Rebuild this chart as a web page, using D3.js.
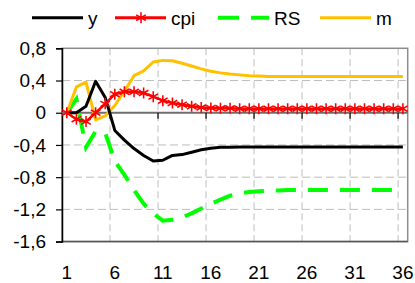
<!DOCTYPE html>
<html>
<head>
<meta charset="utf-8">
<script src="https://cdn.jsdelivr.net/npm/d3@7"></script>
<style>
  body { margin: 0; background: #fff; }
  svg text { font-family: Arial, "Liberation Sans", sans-serif; }
</style>
</head>
<body>
<div id="chart"></div>
<script>
var periods = d3.range(1, 37);
var xTickLabels = [1, 6, 11, 16, 21, 26, 31, 36];
var yTicks = [0.8, 0.4, 0, -0.4, -0.8, -1.2, -1.6];

var ySeries = [0, 0, 0.08, 0.39, 0.19, -0.22, -0.34, -0.445, -0.53, -0.6, -0.59, -0.53, -0.52, -0.49, -0.46, -0.44,
               -0.43, -0.43, -0.425, -0.425, -0.425, -0.425, -0.425, -0.425, -0.425, -0.425, -0.425, -0.425, -0.425, -0.425,
               -0.425, -0.425, -0.425, -0.425, -0.425, -0.425];
var cpiSeries = [0, -0.08, -0.11, 0.0, 0.11, 0.23, 0.26, 0.26, 0.245, 0.2, 0.15, 0.12, 0.1, 0.08, 0.065, 0.06,
                 0.055, 0.055, 0.05, 0.05, 0.05, 0.05, 0.05, 0.05, 0.05, 0.05, 0.05, 0.05, 0.05, 0.05,
                 0.05, 0.05, 0.05, 0.05, 0.05, 0.05];
var rsSeries = [0, 0.17, -0.43, -0.23, -0.25, -0.6, -0.77, -0.96, -1.13, -1.25, -1.34, -1.33, -1.3, -1.25, -1.19, -1.13,
                -1.08, -1.03, -1.0, -0.985, -0.975, -0.97, -0.965, -0.96, -0.96, -0.96, -0.96, -0.96, -0.96, -0.96,
                -0.96, -0.96, -0.96, -0.96, -0.96, -0.96];
var mSeries = [0, 0.32, 0.38, -0.09, -0.04, 0.09, 0.27, 0.46, 0.52, 0.63, 0.65, 0.645, 0.615, 0.58, 0.545, 0.515,
               0.495, 0.48, 0.47, 0.46, 0.455, 0.45, 0.45, 0.45, 0.45, 0.45, 0.45, 0.45, 0.45, 0.45,
               0.45, 0.45, 0.45, 0.45, 0.45, 0.45];

var seriesNames = ["y", "cpi", "RS", "m"];

var svg = d3.select("#chart").append("svg")
            .attr("width", 415)
            .attr("height", 283);

var plotLeft = 62, plotRight = 407.7, plotTop = 48.3, plotBottom = 241.6;

var x = d3.scaleBand().domain(periods).range([plotLeft, plotRight]).padding(0);
var y = d3.scaleLinear().domain([-1.6, 0.8]).range([plotBottom, plotTop]);
var cx = function(p) { return x(p) + x.bandwidth() / 2; };
var fmt = function(d) { return d == 0 ? "0" : d3.format(".1f")(d).replace(".", ",").replace("\u2212", "-"); };

// horizontal dashed grid
svg.selectAll("line.hgrid")
   .data(yTicks.filter(function(d) { return d != 0 && d != -1.6 && d != 0.8; }))
   .enter().append("line")
   .attr("x1", plotLeft).attr("x2", plotRight)
   .attr("y1", function(d) { return y(d); })
   .attr("y2", function(d) { return y(d); })
   .attr("stroke", "#bdbdbd")
   .attr("stroke-width", 1)
   .attr("stroke-dasharray", "8,4");

// vertical dashed grid (category boundaries)
svg.selectAll("line.vgrid")
   .data(xTickLabels.slice(1))
   .enter().append("line")
   .attr("x1", function(d) { return x(d); })
   .attr("x2", function(d) { return x(d); })
   .attr("y1", plotTop).attr("y2", plotBottom)
   .attr("stroke", "#bdbdbd")
   .attr("stroke-width", 1)
   .attr("stroke-dasharray", "7,4");

// plot border
svg.append("rect")
   .attr("x", plotLeft).attr("y", plotTop)
   .attr("width", plotRight - plotLeft).attr("height", plotBottom - plotTop)
   .attr("fill", "none")
   .attr("stroke", "#8c8c8c")
   .attr("stroke-width", 1.5);

svg.append("line")
   .attr("x1", plotLeft).attr("x2", plotRight)
   .attr("y1", plotBottom).attr("y2", plotBottom)
   .attr("stroke", "#555").attr("stroke-width", 1.5);

// y axis
var yAxis = d3.axisLeft(y)
              .tickValues(yTicks)
              .tickSize(6)
              .tickPadding(10)
              .tickFormat(fmt);
var yg = svg.append("g").attr("transform", "translate(" + plotLeft + ",0)").call(yAxis);
yg.select(".domain").attr("stroke", "#000").attr("stroke-width", 1.5);
yg.selectAll(".tick line").attr("stroke", "#000").attr("stroke-width", 1.2);
yg.selectAll(".tick text").attr("font-size", 19).attr("fill", "#000")
  .attr("font-family", "Arial, 'Liberation Sans', sans-serif");

// zero line with category ticks
svg.append("line")
   .attr("x1", plotLeft).attr("x2", plotRight)
   .attr("y1", y(0)).attr("y2", y(0))
   .attr("stroke", "#6e6e6e").attr("stroke-width", 1.8);
svg.selectAll("line.xtick")
   .data(xTickLabels.slice(1))
   .enter().append("line")
   .attr("x1", function(d) { return x(d); })
   .attr("x2", function(d) { return x(d); })
   .attr("y1", y(0)).attr("y2", y(0) + 6)
   .attr("stroke", "#000").attr("stroke-width", 1.2);

// x labels
svg.selectAll("text.xlab")
   .data(xTickLabels)
   .enter().append("text")
   .text(function(d) { return d; })
   .attr("x", function(d) { return cx(d); })
   .attr("y", 279)
   .attr("font-size", 19)
   .attr("text-anchor", "middle")
   .attr("fill", "#000");

var line = function(vals) {
  return d3.line()
           .x(function(d, i) { return cx(periods[i]); })
           .y(function(d) { return y(d); })(vals);
};

svg.append("path").attr("d", line(rsSeries))
   .attr("fill", "none").attr("stroke", "#00ff00")
   .attr("stroke-width", 4).attr("stroke-dasharray", "20,12");

svg.append("path").attr("d", line(mSeries))
   .attr("fill", "none").attr("stroke", "#ffc000")
   .attr("stroke-width", 3).attr("stroke-linejoin", "round");

svg.append("path").attr("d", line(ySeries))
   .attr("fill", "none").attr("stroke", "#000")
   .attr("stroke-width", 3).attr("stroke-linejoin", "round");

svg.append("path").attr("d", line(cpiSeries))
   .attr("fill", "none").attr("stroke", "#ff0000")
   .attr("stroke-width", 2.5);

var star = "M0,-5.5L0,5.5M-4.8,-2.8L4.8,2.8M-4.8,2.8L4.8,-2.8";
svg.selectAll("path.star")
   .data(cpiSeries)
   .enter().append("path")
   .attr("d", star)
   .attr("transform", function(d, i) { return "translate(" + cx(periods[i]) + "," + y(d) + ")"; })
   .attr("fill", "none")
   .attr("stroke", "#ff0000")
   .attr("stroke-width", 1.6);

// legend
var legendX = [32, 115, 218, 320];
var legendColors = ["#000", "#ff0000", "#00ff00", "#ffc000"];
var legendY = 17.7;
for (var i = 0; i < seriesNames.length; i++) {
  var l = svg.append("line")
             .attr("x1", legendX[i]).attr("x2", legendX[i] + 51)
             .attr("y1", legendY).attr("y2", legendY)
             .attr("stroke", legendColors[i])
             .attr("stroke-width", i == 2 ? 4 : 3);
  if (i == 2) l.attr("stroke-dasharray", "21,12");
  if (i == 1) {
    svg.append("path").attr("d", star)
       .attr("transform", "translate(" + (legendX[i] + 26) + "," + legendY + ")")
       .attr("fill", "none").attr("stroke", "#ff0000").attr("stroke-width", 1.6);
  }
  svg.append("text")
     .text(seriesNames[i])
     .attr("x", legendX[i] + 56)
     .attr("y", legendY + 7)
     .attr("font-size", 19)
     .attr("fill", "#000");
}
</script>
</body>
</html>
